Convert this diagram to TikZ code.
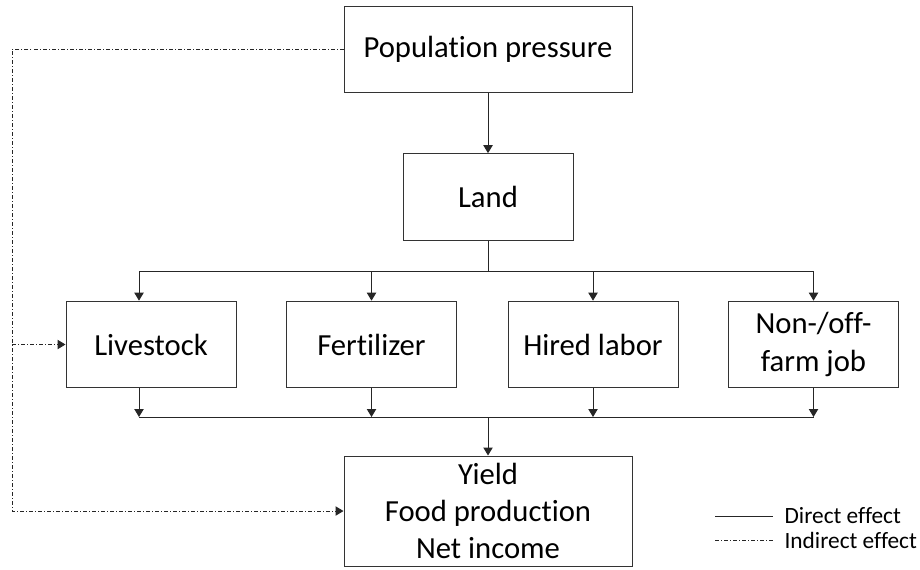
\documentclass[tikz,border=0pt]{standalone}
\usepackage{fontspec}
\setmainfont{Carlito}[Ligatures=NoCommon]
\usetikzlibrary{positioning, arrows.meta}

\begin{document}
\begin{tikzpicture}[x=0.75pt, y=-0.75pt,
  box/.style={draw=black!80, line width=0.75pt, minimum width=127.5pt, minimum height=65pt, inner sep=0pt, align=center, font=\fontsize{23}{28}\selectfont},
  arr/.style={-{Triangle[width=7pt, length=6pt]}},
  link/.style={draw=black!85, line width=0.75pt},
  indirect/.style={link, dash pattern=on 3pt off 1.5pt on 0.75pt off 1.5pt},
  legend/.style={inner sep=1pt, font=\fontsize{17.5}{20}\selectfont}]
\useasboundingbox (0,0) rectangle (920,569);

% Boxes
\node[box, minimum width=216pt] (pop) at (488,49.5) {Population pressure};
\node[box] (land) at (488,197) {Land};
\node[box] (live) at (151,344.5) {Livestock};
\node[box] (fert) at (371.5,344.5) {Fertilizer};
\node[box] (hired) at (593,344.5) {Hired labor};
\node[box] (job) at (813.5,344.5) {Non-/off-\\farm job};
\node[box, minimum width=216pt, minimum height=82.5pt] (yield) at (488,511) {Yield\\Food production\\Net income};

% Direct effects
\coordinate (topL) at (139,271);
\coordinate (topR) at (813.5,271);
\coordinate (botL) at (139,417);
\coordinate (botR) at (813.5,417);
\draw[link, arr] (pop) -- (land);
\draw[link] (land) -- (land |- topL);
\draw[link] (topL) -- (topR);
\draw[link, arr] (topL) -- (topL |- live.north);
\draw[link, arr] (fert.north |- topL) -- (fert.north);
\draw[link, arr] (hired.north |- topL) -- (hired.north);
\draw[link, arr] (topR) -- (job.north);
\draw[link] (botL) -- (botR);
\draw[link, arr] (botL |- live.south) -- (botL);
\draw[link, arr] (fert.south) -- (fert.south |- botL);
\draw[link, arr] (hired.south) -- (hired.south |- botL);
\draw[link, arr] (job.south) -- (botR);
\draw[link, arr] (yield.north |- botL) -- (yield.north);

% Indirect effects
\coordinate (corner) at (12,49.5);
\draw[indirect, arr] (pop.west) -- (corner) |- (yield.west);
\draw[indirect, arr] (corner |- live.west) -- (live.west);

% Legend
\node[legend, anchor=west] (dirtxt) at (783,516) {Direct effect};
\node[legend, anchor=west] (indtxt) at (783,540) {Indirect effect};
\draw[link] ([xshift=-51pt]dirtxt.west) -- ([xshift=-7.5pt]dirtxt.west);
\draw[indirect] ([xshift=-51pt]indtxt.west) -- ([xshift=-7.5pt]indtxt.west);
\end{tikzpicture}
\end{document}
